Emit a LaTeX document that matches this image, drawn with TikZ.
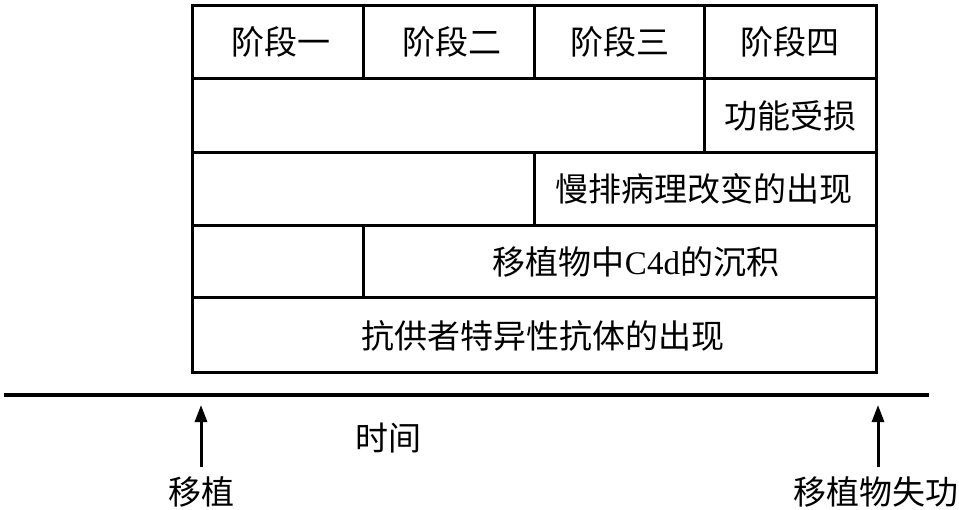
\documentclass[tikz,border=0pt]{standalone}
\usepackage{fontspec}
\setmainfont{Liberation Serif}
\newfontfamily\cjk{Noto Sans CJK SC}
\usetikzlibrary{arrows.meta}
\begin{document}
\begin{tikzpicture}[x=1pt,y=-1pt,
  lbl/.style={font=\fontsize{33}{37}\selectfont, inner sep=0pt, anchor=center},
  grid/.style={line width=3pt},
  upar/.style={line width=3pt,-{Triangle[length=17pt,width=12pt]}}]
\useasboundingbox (0,0) rectangle (959,509);
% grid
\draw[grid] (192,5) rectangle (876,372);
\draw[grid] (192,78) -- (876,78);
\draw[grid] (192,152) -- (876,152);
\draw[grid] (192,225) -- (876,225);
\draw[grid] (192,297) -- (876,297);
\draw[grid] (363,5) -- (363,78);
\draw[grid] (534,5) -- (534,78);
\draw[grid] (704,5) -- (704,78);
\draw[grid] (704,78) -- (704,152);
\draw[grid] (534,152) -- (534,225);
\draw[grid] (363,225) -- (363,297);
% texts
\node[lbl] (s1) at (281,42) {\cjk 阶段一};
\node[lbl] (s2) at (452,42) {\cjk 阶段二};
\node[lbl] (s3) at (620,42) {\cjk 阶段三};
\node[lbl] (s4) at (790,42) {\cjk 阶段四};
\node[lbl] (r2) at (790,116) {\cjk 功能受损};
\node[lbl] (r3) at (704,189) {\cjk 慢排病理改变的出现};
\node[lbl] (r4) at (636,262) {{\cjk 移植物中}C4d{\cjk 的沉积}};
\node[lbl] (r5) at (543,336) {\cjk 抗供者特异性抗体的出现};
% timeline
\coordinate (tl0) at (4,395);
\coordinate (tl1) at (929,395);
\draw[line width=4pt] (tl0) -- (tl1);
\coordinate (a0) at (201,467);
\coordinate (a1) at (201,405);
\coordinate (b0) at (878,467);
\coordinate (b1) at (878,405);
\draw[upar] (a0) -- (a1);
\draw[upar] (b0) -- (b1);
\node[lbl] (time) at (388,438) {\cjk 时间};
\node[lbl] (tx) at (201,492) {\cjk 移植};
\node[lbl] (fail) at (876,492) {\cjk 移植物失功};
\end{tikzpicture}
\end{document}
